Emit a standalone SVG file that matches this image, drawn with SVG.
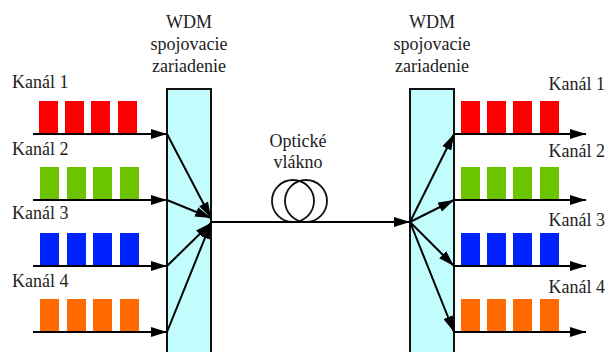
<svg xmlns="http://www.w3.org/2000/svg" width="610" height="352" viewBox="0 0 610 352">
<defs>
<marker id="ah" markerUnits="userSpaceOnUse" markerWidth="16" markerHeight="10" refX="16" refY="5" orient="auto">
<path d="M0,0 L16,5 L0,10 Z" fill="#000"/>
</marker>
<style>
.box{fill:#c2fcfc;stroke:#111;stroke-width:2}
.ln{stroke:#000;stroke-width:2;fill:none}
.r{fill:#ff0000}.g{fill:#6cc400}.b{fill:#0022ff}.o{fill:#ff6a00}
.coil{fill:none;stroke:#111;stroke-width:1.8}
</style>
</defs>
<rect width="610" height="352" fill="#fff"/>
<g font-family="Liberation Serif, Times New Roman, serif" font-size="18" fill="#222">

<g id="mux">
<rect class="box" x="167" y="89" width="44" height="270"/>
<text x="189" y="28" text-anchor="middle">WDM</text>
<text x="189" y="50" text-anchor="middle">spojovacie</text>
<text x="189" y="72" text-anchor="middle">zariadenie</text>
</g>
<g id="demux">
<rect class="box" x="410" y="89" width="44" height="270"/>
<text x="432" y="28" text-anchor="middle">WDM</text>
<text x="432" y="50" text-anchor="middle">spojovacie</text>
<text x="432" y="72" text-anchor="middle">zariadenie</text>
</g>

<g id="in1"><text x="12" y="88">Kanál 1</text>
<rect class="r" x="39" y="101" width="19" height="33"/><rect class="r" x="65" y="101" width="19" height="33"/><rect class="r" x="91" y="101" width="19" height="33"/><rect class="r" x="118" y="101" width="19" height="33"/></g>
<g id="in2"><text x="12" y="155">Kanál 2</text>
<rect class="g" x="40" y="167" width="19" height="33"/><rect class="g" x="67" y="167" width="19" height="33"/><rect class="g" x="93" y="167" width="19" height="33"/><rect class="g" x="120" y="167" width="19" height="33"/></g>
<g id="in3"><text x="12" y="219">Kanál 3</text>
<rect class="b" x="40" y="233" width="19" height="33"/><rect class="b" x="67" y="233" width="19" height="33"/><rect class="b" x="93" y="233" width="19" height="33"/><rect class="b" x="120" y="233" width="19" height="33"/></g>
<g id="in4"><text x="12" y="287">Kanál 4</text>
<rect class="o" x="40" y="299" width="19" height="33"/><rect class="o" x="67" y="299" width="19" height="33"/><rect class="o" x="93" y="299" width="19" height="33"/><rect class="o" x="120" y="299" width="19" height="33"/></g>

<g id="out1"><text x="605" y="90" text-anchor="end">Kanál 1</text>
<rect class="r" x="461" y="101" width="19" height="33"/><rect class="r" x="487" y="101" width="19" height="33"/><rect class="r" x="513" y="101" width="19" height="33"/><rect class="r" x="540" y="101" width="19" height="33"/></g>
<g id="out2"><text x="605" y="157" text-anchor="end">Kanál 2</text>
<rect class="g" x="461" y="167" width="19" height="33"/><rect class="g" x="487" y="167" width="19" height="33"/><rect class="g" x="513" y="167" width="19" height="33"/><rect class="g" x="540" y="167" width="19" height="33"/></g>
<g id="out3"><text x="605" y="226" text-anchor="end">Kanál 3</text>
<rect class="b" x="461" y="233" width="19" height="33"/><rect class="b" x="487" y="233" width="19" height="33"/><rect class="b" x="513" y="233" width="19" height="33"/><rect class="b" x="540" y="233" width="19" height="33"/></g>
<g id="out4"><text x="605" y="293" text-anchor="end">Kanál 4</text>
<rect class="o" x="461" y="299" width="19" height="33"/><rect class="o" x="487" y="299" width="19" height="33"/><rect class="o" x="513" y="299" width="19" height="33"/><rect class="o" x="540" y="299" width="19" height="33"/></g>

<g id="fiber">
<circle class="coil" cx="293" cy="201" r="21"/>
<circle class="coil" cx="306" cy="201" r="21"/>
<text x="298" y="147" text-anchor="middle">Optické</text>
<text x="298" y="168" text-anchor="middle">vlákno</text>
</g>
</g>

<g id="connectors">
<line class="ln" x1="33" y1="134" x2="167" y2="134" marker-end="url(#ah)"/>
<line class="ln" x1="33" y1="200" x2="167" y2="200" marker-end="url(#ah)"/>
<line class="ln" x1="33" y1="266" x2="167" y2="266" marker-end="url(#ah)"/>
<line class="ln" x1="33" y1="332" x2="167" y2="332" marker-end="url(#ah)"/>
<line class="ln" x1="167" y1="134" x2="211" y2="218" marker-end="url(#ah)"/>
<line class="ln" x1="167" y1="200" x2="211" y2="218" marker-end="url(#ah)"/>
<line class="ln" x1="167" y1="266" x2="211" y2="223" marker-end="url(#ah)"/>
<line class="ln" x1="167" y1="332" x2="211" y2="223" marker-end="url(#ah)"/>
<line class="ln" x1="211" y1="222" x2="410" y2="222" marker-end="url(#ah)"/>
<line class="ln" x1="410" y1="222" x2="454" y2="134" marker-end="url(#ah)"/>
<line class="ln" x1="410" y1="222" x2="454" y2="200" marker-end="url(#ah)"/>
<line class="ln" x1="410" y1="222" x2="454" y2="266" marker-end="url(#ah)"/>
<line class="ln" x1="410" y1="222" x2="454" y2="332" marker-end="url(#ah)"/>
<line class="ln" x1="454" y1="134" x2="586" y2="134" marker-end="url(#ah)"/>
<line class="ln" x1="454" y1="200" x2="586" y2="200" marker-end="url(#ah)"/>
<line class="ln" x1="454" y1="266" x2="586" y2="266" marker-end="url(#ah)"/>
<line class="ln" x1="454" y1="332" x2="586" y2="332" marker-end="url(#ah)"/>
</g>
</svg>
